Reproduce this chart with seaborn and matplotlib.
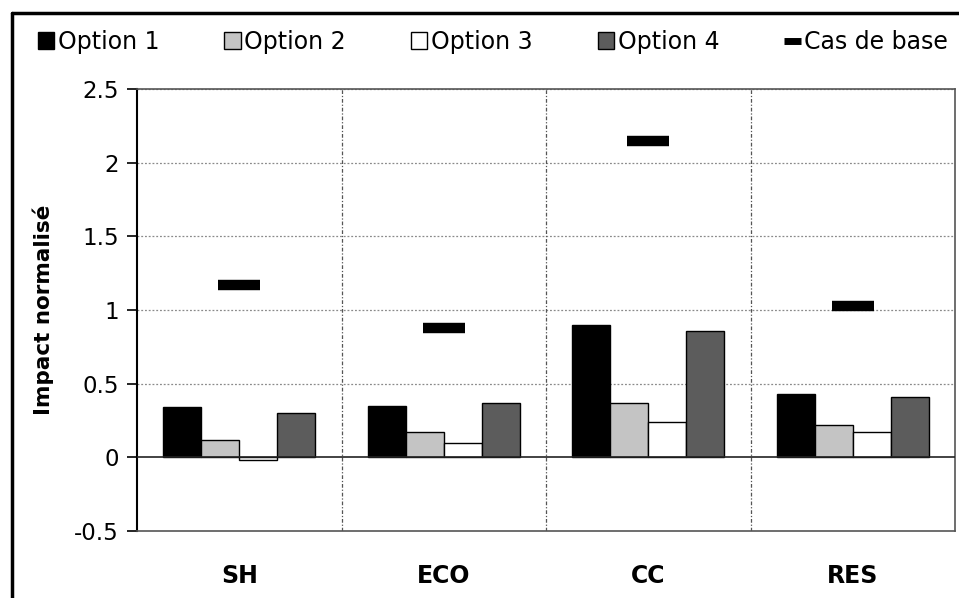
import matplotlib
matplotlib.use("Agg")
import matplotlib.pyplot as plt
import seaborn as sns
import pandas as pd
import numpy as np
from matplotlib.patches import Patch
from matplotlib.lines import Line2D

categories = ["SH", "ECO", "CC", "RES"]
options = ["Option 1", "Option 2", "Option 3", "Option 4"]
option1 = [0.345, 0.35, 0.90, 0.43]
option2 = [0.12, 0.17, 0.37, 0.22]
option3 = [-0.02, 0.095, 0.24, 0.17]
option4 = [0.30, 0.37, 0.86, 0.41]
cas_de_base = [1.17, 0.875, 2.15, 1.03]
y_ticks = [-0.5, 0, 0.5, 1, 1.5, 2, 2.5]
y_tick_labels = ["-0.5", "0", "0.5", "1", "1.5", "2", "2.5"]

colors = ["#000000", "#c4c4c4", "#ffffff", "#5c5c5c"]

rows = []
for opt, vals in zip(options, [option1, option2, option3, option4]):
    for c, v in zip(categories, vals):
        rows.append({"cat": c, "opt": opt, "val": v})
df = pd.DataFrame(rows)

sns.set_style("white")
plt.rcParams['font.family'] = ['DejaVu Sans']
plt.rcParams['text.color'] = 'black'
plt.rcParams['axes.labelcolor'] = 'black'
plt.rcParams['xtick.color'] = 'black'
plt.rcParams['ytick.color'] = 'black'

W, H = 959, 598
fig = plt.figure(figsize=(W / 100, H / 100), dpi=100)
ax = fig.add_axes([137 / W, 1 - 531 / H, (955 - 137) / W, (531 - 89) / H])

sns.barplot(data=df, x="cat", y="val", hue="opt", order=categories,
            hue_order=options, palette=colors, width=0.745, gap=0,
            edgecolor="black", linewidth=1.0, ax=ax, legend=False,
            saturation=1, errorbar=None)

xs = np.arange(len(categories))
ax.plot(xs, cas_de_base, ls="none", marker="_", ms=30, mew=7.5,
        color="black", zorder=5)

ax.set_xlim(-0.5, len(categories) - 0.5)
ax.set_ylim(-0.5, 2.5)
ax.set_yticks(y_ticks)
ax.set_yticklabels(y_tick_labels, fontsize=16.5, color="black")
ax.set_xticks(xs)
ax.set_xticklabels(categories, fontsize=17, fontweight="bold", color="black")
ax.tick_params(axis="x", length=0, pad=24)
ax.tick_params(axis="y", length=7, width=1.2, color="black", direction="out",
               left=True, pad=6)
ax.set_xlabel("")
ax.set_ylabel("")

# grid
for yv in y_ticks[2:]:
    ax.axhline(yv, color="#8a8a8a", lw=0.9, ls=(0, (1.5, 1.5)), zorder=0)
for xv in [0.5, 1.5, 2.5]:
    ax.axvline(xv, color="#555555", lw=0.9, ls=(0, (3, 1.5, 1, 1.5)), zorder=0)
ax.axhline(0, color="#222222", lw=1.2, zorder=3)

for s in ["top", "right", "bottom"]:
    ax.spines[s].set_visible(True)
    ax.spines[s].set_color("#555555")
    ax.spines[s].set_linestyle((0, (1.5, 1.0)))
    ax.spines[s].set_linewidth(1.2)
ax.spines["left"].set_color("black")
ax.spines["left"].set_linewidth(1.5)

fig.text(43 / W, 1 - 310 / H, "Impact normalisé", rotation=90,
         ha="center", va="center", fontsize=15.5, fontweight="bold",
         color="black")

handles = [Patch(facecolor=c, edgecolor="black", lw=1) for c in colors]
handles.append(Line2D([0], [0], color="black", lw=5, solid_capstyle="butt"))
fig.legend(handles, options + ["Cas de base"], loc="center",
           bbox_to_anchor=(493 / W, 1 - 42 / H), ncol=5, frameon=False,
           fontsize=17, handlelength=0.7, handleheight=0.7,
           handletextpad=0.15, columnspacing=2.75, labelcolor="black")

# outer frame (left and top edges)
fig.add_artist(Line2D([12 / W, 12 / W], [0, 1 - 13 / H], color="black",
                      lw=2.5, transform=fig.transFigure))
fig.add_artist(Line2D([12 / W, 1], [1 - 13 / H, 1 - 13 / H], color="black",
                      lw=2.5, transform=fig.transFigure))

fig.savefig("out.png", dpi=100)
